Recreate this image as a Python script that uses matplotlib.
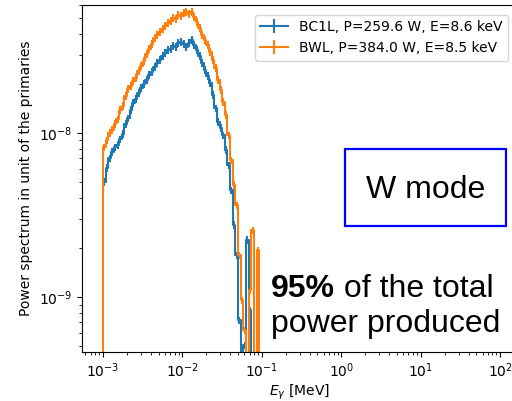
import numpy as np
import matplotlib
matplotlib.use("Agg")
import matplotlib.pyplot as plt
from matplotlib.patches import Rectangle

# ------------------------------------------------
# Data: photon power spectra, 30 log bins / decade from 1 keV to 100 keV
# values in 1e-9 (unit of the primaries)
# ------------------------------------------------
bin_edges = np.logspace(-3, -1, 61)  # MeV

bc1l_label = "BC1L, P=259.6 W, E=8.6 keV"
bc1l_power = [5.03, 6.12, 7.04, 7.66, 8.21, 8.45, 9.19, 9.86, 11.35, 12.34,
              13.81, 15.24, 16.12, 17.54, 18.81, 19.90, 21.05, 22.58, 23.55, 25.27,
              26.72, 27.87, 29.48, 30.75, 32.07, 32.52, 33.93, 33.45, 35.38, 35.88,
              34.89, 33.45, 35.38, 36.90, 34.40, 32.07, 29.48, 26.72, 24.22, 22.26,
              20.18, 17.05, 14.20, 11.67, 10.73, 9.72, 7.88, 6.38, 4.49, 2.75,
              1.80, 0.724, 0.35, 0.510, 2.23, 0.833, 0, 0, 0, 0]

bwl_label = "BWL, P=384.0 W, E=8.5 keV"
bwl_power = [8.21, 9.06, 10.0, 10.43, 11.35, 12.17, 13.81, 14.61, 16.81, 18.55,
             19.35, 20.76, 21.64, 23.88, 25.62, 27.48, 30.32, 32.52, 34.89, 37.96,
             39.59, 41.29, 43.06, 44.93, 46.85, 48.19, 50.25, 49.55, 52.42, 51.69,
             53.92, 54.68, 53.16, 54.68, 50.96, 47.52, 43.67, 39.59, 36.90, 34.40,
             31.18, 27.87, 24.91, 21.05, 18.29, 15.45, 12.88, 9.72, 6.84, 4.82,
             3.64, 1.80, 0.959, 0.629, 0.35, 1.10, 2.56, 0, 1.93, 0]

rel_err = 0.05

# ------------------------------------------------
# Prepare step data (an empty bin below 1 keV)
# ------------------------------------------------
centers = np.sqrt(bin_edges[:-1] * bin_edges[1:])
step = centers[1] / centers[0]
x = np.r_[centers[0] / step, centers]

# ------------------------------------------------
# Plot
# ------------------------------------------------
fig = plt.figure(figsize=(5.12, 4.01), dpi=100)
ax = fig.add_axes([82 / 512, 1 - 352 / 401, 436 / 512, 347 / 401])

for label, vals in [(bc1l_label, bc1l_power), (bwl_label, bwl_power)]:
    y = np.r_[0.0, np.array(vals)] * 1e-9
    ax.errorbar(x, y, yerr=rel_err * y, drawstyle="steps-mid", label=label)

ax.set_xscale("log")
ax.set_yscale("log")
ax.set_xlim(10 ** -3.265, 10 ** 2.225)
ax.set_ylim(10 ** -9.335, 10 ** -7.22)
ax.set_xlabel(r"$E_\gamma$ [MeV]", labelpad=2)
ax.set_ylabel("Power spectrum in unit of the primaries")
ax.legend(loc="upper right", borderaxespad=0.7)

# ------------------------------------------------
# Slide annotations
# ------------------------------------------------
fig.patches.append(Rectangle((345 / 512, 1 - 226 / 401), 161 / 512, 77 / 401,
                             transform=fig.transFigure, fill=False,
                             edgecolor="#0000ff", linewidth=1.6))
fig.text(425.5 / 512, 1 - 198 / 401, "W mode", family="Liberation Sans",
         fontsize=23, ha="center", va="baseline")

t1 = fig.text(271 / 512, 1 - 297 / 401, "95%", family="Liberation Sans",
              fontsize=23, weight="bold", va="baseline")
fig.canvas.draw()
x1 = t1.get_window_extent().x1 / fig.bbox.width
fig.text(x1, 1 - 297 / 401, " of the total", family="Liberation Sans",
         fontsize=23, va="baseline")
fig.text(271 / 512, 1 - 332 / 401, "power produced", family="Liberation Sans",
         fontsize=23, va="baseline")

fig.savefig("out.png", dpi=100)
